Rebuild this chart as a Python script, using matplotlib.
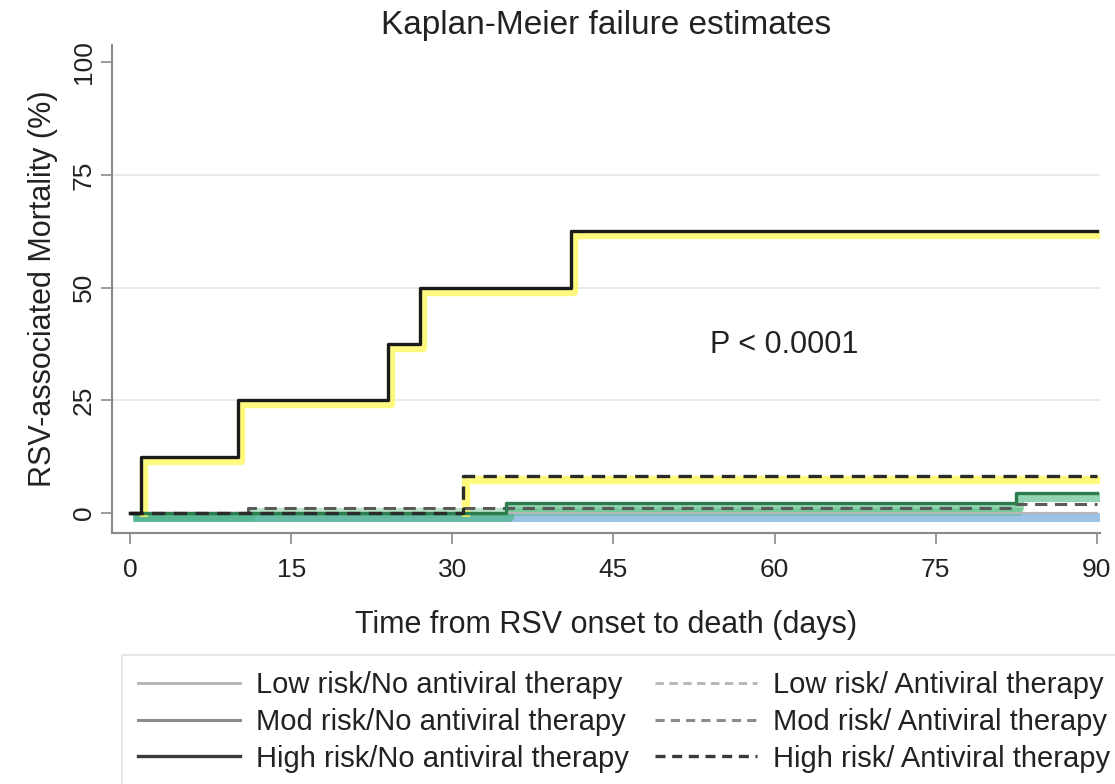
import numpy as np
import matplotlib
matplotlib.use("Agg")
import matplotlib.pyplot as plt
from matplotlib.transforms import offset_copy
from matplotlib.lines import Line2D

plt.rcParams['font.family'] = ['Liberation Sans', 'DejaVu Sans']

# Kaplan-Meier failure curves (time in days, cumulative mortality in %)
high_no_t = [0, 1, 10, 24, 27, 41, 90]
high_no_y = [0, 12.5, 25, 37.5, 50, 62.5, 62.5]
high_av_t = [0, 31, 90]
high_av_y = [0, 8.3, 8.3]
mod_no_t = [0, 35, 82.5, 90]
mod_no_y = [0, 2.2, 4.4, 4.4]
mod_av_t = [0, 11, 82.5, 90]
mod_av_y = [0, 1.1, 2.0, 2.0]
low_no_t = [0, 90]
low_no_y = [0, 0]
low_av_t = [0, 90]
low_av_y = [0, 0]

legend_labels = ["Low risk/No antiviral therapy", "Low risk/ Antiviral therapy",
                 "Mod risk/No antiviral therapy", "Mod risk/ Antiviral therapy",
                 "High risk/No antiviral therapy", "High risk/ Antiviral therapy"]

fig = plt.figure(figsize=(11.15, 7.84), dpi=100)
ax = fig.add_axes([0.1004, 0.3202, 0.8861, 0.6224])

# highlighter bands (slightly offset below/right of the lines)
hl = offset_copy(ax.transData, fig=fig, x=3, y=-4, units='dots')
ax.step(low_no_t, low_no_y, where='post', color='#5b9bd5', alpha=0.6, lw=6.5,
        transform=hl, solid_capstyle='butt', zorder=1)
ax.step(mod_no_t, mod_no_y, where='post', color='#3cb371', alpha=0.55, lw=6.5,
        transform=hl, solid_capstyle='butt', zorder=1)
ax.step(mod_av_t[:3], mod_av_y[:3], where='post', color='#3cb371', alpha=0.35, lw=6.0,
        transform=hl, solid_capstyle='butt', zorder=1)
# yellow marks start at the first event of the high-risk curves
ax.step(np.r_[high_av_t[1], high_av_t[1:]], np.r_[0, high_av_y[1:]], where='post',
        color='#fff95e', alpha=0.8, lw=6.0, transform=hl, solid_capstyle='butt', zorder=1)
ax.step(np.r_[high_no_t[1], high_no_t[1:]], np.r_[0, high_no_y[1:]], where='post',
        color='#fff95e', alpha=0.8, lw=6.0, transform=hl, solid_capstyle='butt', zorder=1)

# curves
ax.step(low_no_t, low_no_y, where='post', color='#b8b8b8', lw=1.5, zorder=2)
ax.step(low_av_t, low_av_y, where='post', color='#b8b8b8', lw=1.5, ls=(0, (4, 2)), zorder=2)
ax.step(mod_av_t, mod_av_y, where='post', color='#5a5a5a', lw=2.2, ls=(0, (4, 2.5)), zorder=3)
ax.step(mod_no_t, mod_no_y, where='post', color='#2e7d4f', lw=2.4, zorder=3)
ax.step(high_av_t, high_av_y, where='post', color='#2a2a2a', lw=2.4, ls=(0, (4, 2.5)), zorder=4)
ax.step(high_no_t, high_no_y, where='post', color='#1a1a1a', lw=2.4, zorder=4)

ax.text(54, 37.2, "P < 0.0001", fontsize=22, va='center', ha='left', color='#222222')

ax.set_xlim(-1.7, 90.3)
ax.set_ylim(-4.4, 103.8)
ax.set_xticks([0, 15, 30, 45, 60, 75, 90])
ax.set_yticks([0, 25, 50, 75, 100])
for v in [25, 50, 75]:
    ax.axhline(v, color='#e6e6e6', lw=1.2, zorder=0)

for s in ['top', 'right']:
    ax.spines[s].set_visible(False)
for s in ['left', 'bottom']:
    ax.spines[s].set_color('#8a8a8a')
    ax.spines[s].set_linewidth(1.5)
ax.tick_params(axis='both', colors='#8a8a8a', width=1.2, length=8, labelsize=19,
               labelcolor='#222222')
plt.setp(ax.get_yticklabels(), rotation=90, va='center')
ax.tick_params(axis='x', pad=10)

ax.set_xlabel("Time from RSV onset to death (days)", fontsize=22, color='#222222', labelpad=20)
ax.set_ylabel("RSV-associated Mortality (%)", fontsize=22, color='#222222', labelpad=10)
ax.set_title("Kaplan-Meier failure estimates", fontsize=24, color='#222222', pad=8)

handles = [
    Line2D([], [], color='#b4b4b4', lw=2),
    Line2D([], [], color='#b4b4b4', lw=2, ls=(0, (3, 2))),
    Line2D([], [], color='#8c8c8c', lw=2.2),
    Line2D([], [], color='#8c8c8c', lw=2.2, ls=(0, (3, 2))),
    Line2D([], [], color='#3a3a3a', lw=2.4),
    Line2D([], [], color='#3a3a3a', lw=2.4, ls=(0, (3, 2))),
]
order = [0, 2, 4, 1, 3, 5]
leg = fig.legend([handles[i] for i in order], [legend_labels[i] for i in order],
                 ncol=2, loc='upper left', bbox_to_anchor=(122 / 1115, 1 - 655 / 784),
                 fontsize=21, frameon=True, fancybox=False, handlelength=3.5,
                 handletextpad=0.55, columnspacing=0.9, labelspacing=0.3,
                 borderpad=0.55, borderaxespad=0)
leg.get_frame().set_edgecolor('#dddddd')
leg.get_frame().set_linewidth(1.2)
for t in leg.get_texts():
    t.set_color('#222222')

fig.savefig("out.png", dpi=100)
